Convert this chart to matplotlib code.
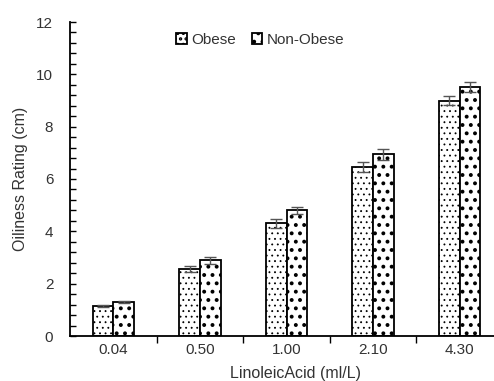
import numpy as np
import matplotlib
matplotlib.use('Agg')
import matplotlib.pyplot as plt
from matplotlib.ticker import MultipleLocator

# values
doses = ['0.04', '0.50', '1.00', '2.10', '4.30']
obese = [1.15, 2.55, 4.3, 6.45, 9.0]
obese_err = [0.04, 0.12, 0.19, 0.19, 0.19]
non_obese = [1.3, 2.9, 4.8, 6.95, 9.5]
non_obese_err = [0.05, 0.13, 0.13, 0.21, 0.19]

plt.rcParams['font.family'] = ['Liberation Sans', 'DejaVu Sans']
plt.rcParams['font.size'] = 11

fig = plt.figure(figsize=(4.94, 3.81), dpi=100)
ax = fig.add_axes([70 / 494, 45 / 381, 433 / 494, 314 / 381])

x = np.arange(len(doses))
w = 0.24

plt.rcParams['hatch.linewidth'] = 0.6
b1 = ax.bar(x - w / 2, obese, w, color='white', edgecolor='black', linewidth=1.3,
            hatch='...', label='Obese')
plt.rcParams['hatch.linewidth'] = 1.6
b2 = ax.bar(x + w / 2, non_obese, w, color='white', edgecolor='black', linewidth=1.3,
            hatch='..', label='Non-Obese')

ax.errorbar(x - w / 2, obese, yerr=obese_err, fmt='none', ecolor='#555555',
            elinewidth=1, capsize=4.5, capthick=1)
ax.errorbar(x + w / 2, non_obese, yerr=non_obese_err, fmt='none', ecolor='#555555',
            elinewidth=1, capsize=4.5, capthick=1)

ax.set_xlim(-0.5, 4.5)
ax.set_ylim(0, 12)
ax.set_xticks(x)
ax.set_xticklabels(doses)
ax.set_xticks(x[:-1] + 0.5, minor=True)
ax.tick_params(axis='x', which='major', length=0, pad=5, colors='#333333')
ax.tick_params(axis='x', which='minor', length=5, direction='out', width=1)
ax.yaxis.set_major_locator(MultipleLocator(2))
ax.yaxis.set_minor_locator(MultipleLocator(0.4))
ax.tick_params(axis='y', which='both', direction='in', length=4, width=1, colors='black',
               labelcolor='#333333', pad=12)

for s in ['top', 'right']:
    ax.spines[s].set_visible(False)
for s in ['left', 'bottom']:
    ax.spines[s].set_linewidth(1.3)

ax.set_ylabel('Oiliness Rating (cm)', color='#333333', labelpad=6, fontsize=11.5)
ax.set_xlabel('LinoleicAcid (ml/L)', color='#333333', labelpad=0, fontsize=11.5)
ax.xaxis.set_label_coords(0.52, -0.095)

ax.legend(loc='upper center', bbox_to_anchor=(0.44, 1.01), ncol=2, frameon=False,
          handlelength=0.7, handleheight=0.7, handletextpad=0.3, columnspacing=1.0,
          labelcolor='#333333')

fig.savefig('out.png', dpi=100)
